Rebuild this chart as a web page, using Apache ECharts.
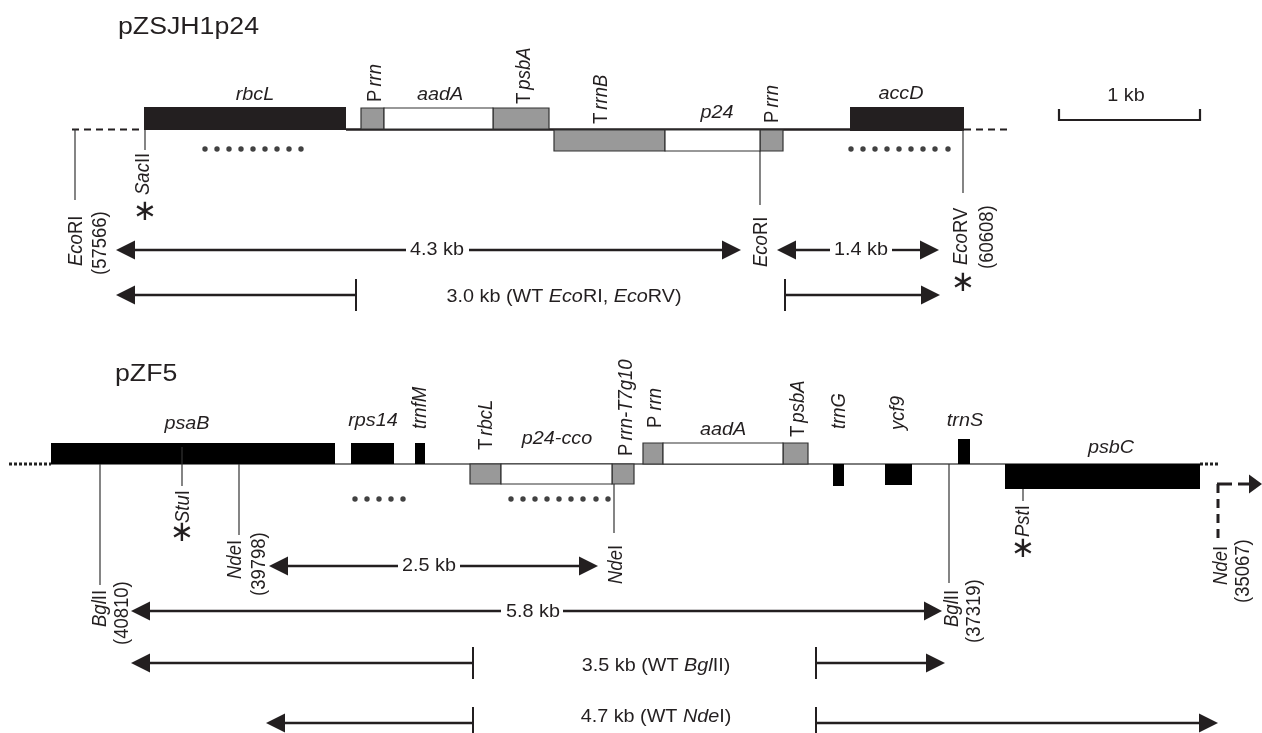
<!DOCTYPE html>
<html><head><meta charset="utf-8">
<style>html,body{margin:0;padding:0;background:#fff}#c{width:1262px;height:733px}</style>
<script src="https://cdn.jsdelivr.net/npm/echarts@6/dist/echarts.min.js"></script>
</head><body><div id="c"></div>
<script>
// Map values, in map units: [start, end, top, bottom]
const blackGenesTop = [[144,346,107,130],[850,964,107,131]];
const blackGenesBottom = [[51,335,443,464],[351,394,443,464],[415,425,443,464],[833,844,464,486],[885,912,464,485],[958,970,439,464],[1005,1200,464,489]];
const grayElements = [[361,384,108,129],[493,549,108,129],[554,665,130,151],[760,783,130,151],[470,501,464,484],[612,634,464,484],[643,663,443,464],[783,808,443,464]];
const whiteElements = [[384,493,108,129],[665,760,130,151],[501,612,464,484],[663,783,443,464]];
// Line segments: [x0, y0, x1, y1]
const backboneTop = [[346,129.5,850,129.5]];
const backboneBottom = [[51,464,1200,464]];
const dashedTop = [[72,129.5,144,129.5],[964,129.5,1010,129.5]];
const dottedBottom = [[9,464,51,464],[1200,464,1218,464]];
const siteLines = [[75,129,75,200],[145,130,145,150],[760,151,760,205],[963,130,963,193],[100,464,100,585],[182,447,182,486],[239,464,239,535],[614,484,614,533],[949,464,949,583],[1023,489,1023,501]];
const spanLines = [[135,250,406,250],[469,250,722,250],[796,250,830,250],[892,250,920,250],[135,295,356,295],[785,295,921,295],[288,566,398,566],[460,566,579,566],[150,611,501,611],[563,611,924,611],[150,663,473,663],[816,663,926,663],[285,723,473,723],[816,723,1199,723]];
const spanTicks = [[356,279,356,311],[785,279,785,311],[473,647,473,679],[816,647,816,679],[473,707,473,733],[816,707,816,733]];
const scaleBar = [[1059,120,1200,120],[1059,109,1059,121],[1200,109,1200,121]];
const dashedNde = [[1218,484,1218,543]];
const stubsNde = [[1217,484,1232,484],[1238,484,1249,484]];
// Arrowheads: [tip, base, y]
const arrowHeads = [[116,135,250],[741,722,250],[777,796,250],[939,920,250],[116,135,295],[940,921,295],[269,288,566],[598,579,566],[131,150,611],[942,924,611],[131,150,663],[945,926,663],[266,285,723],[1218,1199,723],[1262,1249,484]];
// Dotted probes: [x, y]
const dotsRbcL = [[205,149],[217,149],[229,149],[241,149],[253,149],[265,149],[277,149],[289,149],[301,149]];
const dotsAccD = [[851,149],[863,149],[875,149],[887,149],[899,149],[911,149],[923,149],[935,149],[948,149]];
const dotsRps14 = [[355,499],[367,499],[379,499],[391,499],[403,499]];
const dotsP24Cco = [[511,499],[523,499],[535,499],[547,499],[559,499],[571,499],[583,499],[596,499],[608,499]];
// Labels: [text, x, y]
const titleLabels = [['pZSJH1p24',118,27],['pZF5',115,374]];
const flatLabels = [
 ['{i|rbcL}',255,95],['{i|aadA}',440,95],['{i|p24}',717,113],['{i|accD}',901,94],['{n|1 kb}',1126,96],
 ['{n|4.3 kb}',437,250],['{n|1.4 kb}',861,250],['{n|3.0 kb (WT }{i|Eco}{n|RI, }{i|Eco}{n|RV)}',564,297],
 ['{i|psaB}',187,424],['{i|rps14}',373,421],['{i|p24-cco}',557,439],['{i|aadA}',723,430],['{i|trnS}',965,421],['{i|psbC}',1111,448],
 ['{n|2.5 kb}',429,566],['{n|5.8 kb}',533,612],['{n|3.5 kb (WT }{i|Bgl}{n|II)}',656,666],['{n|4.7 kb (WT }{i|Nde}{n|I)}',656,717]
];
const upLabels = [
 ['{n|P}{s| }{i|rrn}',375,102],['{n|T}{s| }{i|psbA}',524,104],['{n|T}{s| }{i|rrnB}',601,124],['{n|P}{s| }{i|rrn}',772,123],
 ['{i|Sac}{n|II}',143,195],['{i|Eco}{n|RI}',76,266],['{n|(57566)}',100,275],['{i|Eco}{n|RI}',761,267],
 ['{i|Eco}{n|RV}',961,265],['{n|(60608)}',987,269],
 ['{i|trnfM}',420,429],['{n|T}{s| }{i|rbcL}',486,450],['{n|P}{s| }{i|rrn-T7g10}',626,456],['{n|P }{i|rrn}',655,428],
 ['{n|T}{s| }{i|psbA}',798,437],['{i|trnG}',839,429],['{i|ycf9}',898,430],
 ['{i|Stu}{n|I}',183,523],['{i|Nde}{n|I}',235,579],['{n|(39798)}',259,596],['{i|Nde}{n|I}',616,584],
 ['{i|Bgl}{n|II}',100,627],['{n|(40810)}',122,645],['{i|Bgl}{n|II}',952,627],['{n|(37319)}',974,643],
 ['{i|Pst}{n|I}',1023,537],['{i|Nde}{n|I}',1221,585],['{n|(35067)}',1243,603]
];
const asterisks = [['\u2217',145,212],['\u2217',963,283],['\u2217',182,533],['\u2217',1023,549]];

const INK = '#231f20';
const FONT = '"Liberation Sans", Arial, sans-serif';
const rich = {
  n:{fontFamily:FONT,fontSize:18.5,fill:INK,fontStyle:'normal'},
  i:{fontFamily:FONT,fontSize:18.5,fill:INK,fontStyle:'italic'},
  s:{fontFamily:FONT,fontSize:11,fill:INK}
};
function rects(data,fill,stroke,lw){
  return {type:'custom',coordinateSystem:'cartesian2d',clip:false,silent:true,animation:false,
    encode:{x:[0,1],y:[2,3]},data:data,
    renderItem:(p,api)=>{
      const a=api.coord([api.value(0),api.value(2)]),b=api.coord([api.value(1),api.value(3)]);
      return {type:'rect',shape:{x:a[0],y:a[1],width:b[0]-a[0],height:b[1]-a[1]},
        style:{fill:fill,stroke:stroke||null,lineWidth:lw||0}};
    }};
}
function segs(data,color,width,dash){
  return {type:'custom',coordinateSystem:'cartesian2d',clip:false,silent:true,animation:false,
    encode:{x:[0,2],y:[1,3]},data:data,
    renderItem:(p,api)=>{
      const a=api.coord([api.value(0),api.value(1)]),b=api.coord([api.value(2),api.value(3)]);
      return {type:'line',shape:{x1:a[0],y1:a[1],x2:b[0],y2:b[1]},
        style:{stroke:color,lineWidth:width,lineDash:dash||null,fill:null}};
    }};
}
function heads(data){
  return {type:'custom',coordinateSystem:'cartesian2d',clip:false,silent:true,animation:false,
    encode:{x:[0,1],y:2},data:data,
    renderItem:(p,api)=>{
      const t=api.coord([api.value(0),api.value(2)]),b=api.coord([api.value(1),api.value(2)]);
      return {type:'polygon',shape:{points:[t,[b[0],b[1]-9.5],[b[0],b[1]+9.5]]},style:{fill:INK}};
    }};
}
function texts(list,opts){
  return {type:'custom',coordinateSystem:'cartesian2d',clip:false,silent:true,animation:false,
    encode:{x:0,y:1},data:list.map(l=>[l[1],l[2]]),
    renderItem:(p,api)=>{
      const c=api.coord([api.value(0),api.value(1)]);
      return Object.assign({type:'text',x:c[0],y:c[1],
        style:Object.assign({text:list[p.dataIndex][0],rich:rich,textFill:INK,fill:INK},opts.style)},opts.el);
    }};
}
function dots(data){
  return {type:'scatter',data:data,symbol:'circle',symbolSize:5.4,silent:true,animation:false,itemStyle:{color:'#111'}};
}
const chart = echarts.init(document.getElementById('c'),null,{renderer:'canvas'});
chart.setOption({
  animation:false,backgroundColor:'#fff',
  grid:{left:0,right:0,top:0,bottom:0},
  xAxis:{type:'value',min:0,max:1262,show:false},
  yAxis:{type:'value',min:0,max:733,inverse:true,show:false},
  series:[
    segs(backboneTop,INK,2.4),
    segs(dashedTop,INK,1.8,[7,5]),
    segs(backboneBottom,'#7d7d7d',2),
    segs(dottedBottom,'#222',3,[3,2]),
    rects(blackGenesTop,INK),
    rects(blackGenesBottom,'#000'),
    rects(grayElements,'#999999','#333',1.2),
    rects(whiteElements,'#ffffff','#333',1.2),
    segs(siteLines,'#333',1.2),
    segs(spanLines,INK,2.4),
    segs(spanTicks,INK,2),
    segs(scaleBar,INK,2.2),
    segs(dashedNde,INK,3,[9,6]),
    segs(stubsNde,INK,3),
    heads(arrowHeads),
    dots(dotsRbcL),dots(dotsAccD),dots(dotsRps14),dots(dotsP24Cco),
    texts(titleLabels,{style:{font:'24.5px '+FONT,align:'left',verticalAlign:'middle'},el:{scaleX:1.09}}),
    texts(flatLabels,{style:{align:'center',verticalAlign:'middle'},el:{scaleX:1.07}}),
    texts(upLabels,{style:{align:'left',verticalAlign:'middle'},el:{rotation:Math.PI/2,scaleY:1.12}}),
    texts(asterisks,{style:{font:'29px "DejaVu Sans"',align:'center',verticalAlign:'middle'},el:{}})
  ]
});
</script></body></html>
